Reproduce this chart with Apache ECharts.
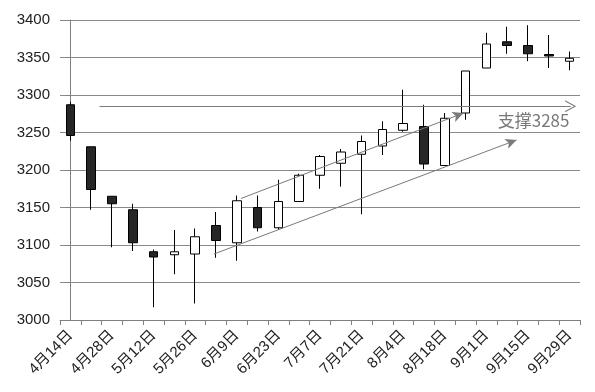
<!DOCTYPE html>
<html><head><meta charset="utf-8">
<script src="https://cdn.jsdelivr.net/npm/echarts@6/dist/echarts.min.js"></script>
<style>html,body{margin:0;padding:0;background:#fff}#c{width:595px;height:392px}</style>
</head><body><div id="c"></div>
<script>
const categories = ['4月14日','4月21日','4月28日','5月5日','5月12日','5月19日','5月26日','6月2日','6月9日','6月16日','6月23日','6月30日','7月7日','7月14日','7月21日','7月28日','8月4日','8月11日','8月18日','8月25日','9月1日','9月8日','9月15日','9月22日','9月29日'];
const openV  = [3287,3231,3165,3147,3091,3087,3088,3126,3103,3150,3123,3158,3193,3209,3221,3232,3253,3258,3206,3276,3336,3371,3366,3354,3345];
const closeV = [3246,3174,3155,3103,3084,3091,3111,3106,3159,3123,3158,3193,3218,3224,3238,3254,3262,3208,3269,3332,3368,3366,3355,3352,3349];
const lowV   = [3239,3147,3097,3092,3017,3061,3022,3083,3079,3118,3120,3158,3175,3178,3141,3220,3251,3201,3206,3267,3336,3355,3345,3336,3333];
const highV  = [3291,3231,3165,3155,3094,3120,3122,3144,3166,3166,3187,3195,3220,3228,3246,3265,3307,3287,3276,3332,3383,3391,3393,3380,3358];
const yMin = 3000, yMax = 3400, yStep = 50;
const supportLevel = 3285;
const supportText = '支撑3285';
const supportLine = [[1.4, 3285], [24.05, 3285]];
const upperTrend = [[8.2, 3162], [18.9, 3276]];
const lowerTrend = [[6.9, 3088], [21.45, 3240]];
const labelPos = [22.27, 3266];

const kData = categories.map((c,i)=>[openV[i],closeV[i],lowV[i],highV[i]]);
const chev = 'path://M0,10 L5,0 L10,10 L9,10 L5,2 L1,10 Z';
const gray = '#7a7a7a';
const chart = echarts.init(document.getElementById('c'));
chart.setOption({
  backgroundColor:'#fff',
  animation:false,
  grid:{left:60,right:15,top:20,bottom:72},
  xAxis:[{
    type:'category', data:categories, boundaryGap:true,
    axisLine:{lineStyle:{color:'#808080'}},
    axisTick:{show:true,alignWithLabel:false,interval:0,length:5,lineStyle:{color:'#808080'}},
    axisLabel:{interval:1,rotate:45,fontSize:15,color:'#222',margin:13,fontFamily:'Liberation Sans, Noto Sans CJK SC'},
    splitLine:{show:false}
  },{
    type:'value', min:-0.5, max:24.5, show:false
  }],
  yAxis:{
    type:'value', min:yMin, max:yMax, interval:yStep,
    axisLine:{show:true,lineStyle:{color:'#808080'}},
    axisTick:{show:true,length:5,lineStyle:{color:'#808080'}},
    axisLabel:{fontSize:15,color:'#222',margin:10,fontFamily:'Liberation Sans',formatter:v=>String(v)},
    splitLine:{lineStyle:{color:'#8a8a8a',width:1}}
  },
  series:[{
    type:'candlestick', data:kData, barWidth:9,
    itemStyle:{color:'#ffffff',color0:'#262626',borderColor:'#000',borderColor0:'#000',borderWidth:1}
  },{
    type:'scatter', xAxisIndex:1, symbolSize:0, silent:true,
    data:[labelPos],
    label:{show:true,position:'inside',formatter:supportText,fontSize:17,color:'#555',fontFamily:'Noto Sans CJK SC'},
    markLine:{
      silent:true, animation:false,
      label:{show:false},
      lineStyle:{color:gray,width:1,type:'solid'},
      data:[
        [{coord:supportLine[0],symbol:'none'},{coord:supportLine[1],symbol:chev,symbolSize:[12,11]}],
        [{coord:upperTrend[0],symbol:'none'},{coord:upperTrend[1],symbol:'arrow',symbolSize:[8,11]}],
        [{coord:lowerTrend[0],symbol:'none'},{coord:lowerTrend[1],symbol:'arrow',symbolSize:[8,11]}]
      ]
    }
  }]
});
</script></body></html>
